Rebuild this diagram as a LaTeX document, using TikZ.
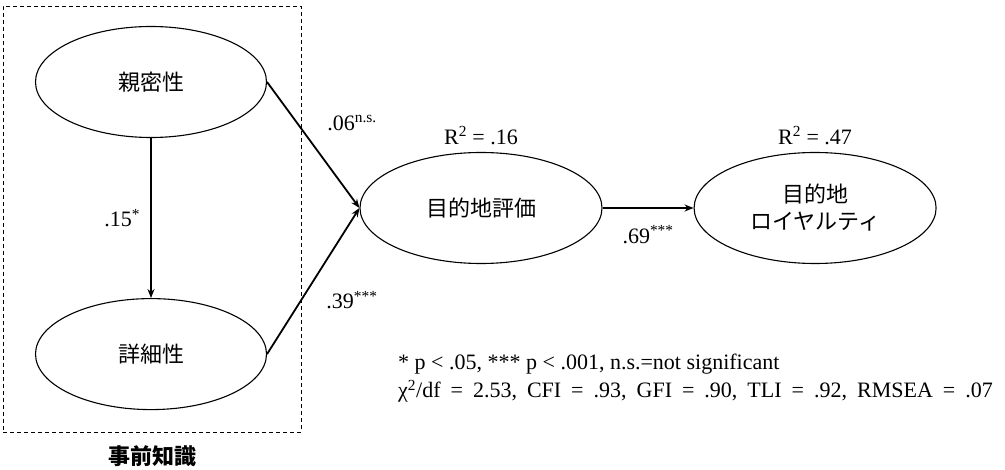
\documentclass[tikz,border=0pt]{standalone}
\usepackage{fontspec}
\setmainfont{Liberation Serif}
\newfontfamily\jpfont{Noto Sans CJK JP}
\usetikzlibrary{positioning,arrows.meta,shapes.geometric}

\begin{document}
\begin{tikzpicture}[x=1pt,y=-1pt,>={Stealth[length=9pt,width=7pt]},
  latent/.style={draw,ellipse,line width=1.1pt,minimum width=231pt,minimum height=111pt,
    inner sep=0pt,align=center,font=\jpfont\fontsize{22}{27}\selectfont},
  pathline/.style={->,line width=1.8pt},
  coef/.style={inner sep=2pt,font=\fontsize{22}{24}\selectfont}]
\useasboundingbox (0,0) rectangle (1005,470);
% prior knowledge block
\node (prior) [draw,line width=0.8pt,dash pattern=on 4pt off 3pt,
  minimum width=298pt,minimum height=426pt] at (152,219) {};
\node (priorlbl) [below=10pt of prior,font=\jpfont\bfseries\fontsize{22}{26}\selectfont] {事前知識};
\node (intim) [latent] at (151,82) {親密性};
\node (detail) [latent,below=160pt of intim] {詳細性};
% outcomes
\node (eval) [latent,minimum width=242pt] at (481,208) {目的地評価};
\node (loyal) [latent,minimum width=242pt,right=91pt of eval] {目的地\\ロイヤルティ};
\node (r1) [coef,above=5pt of eval] {R\textsuperscript{2} = .16};
\node (r2) [coef,above=5pt of loyal] {R\textsuperscript{2} = .47};
% paths
\draw[pathline] (intim.south) -- (detail.north) node (c0) [coef,midway,left=8pt] {.15\textsuperscript{*}};
\draw[pathline] (intim.east) -- (eval.west);
\draw[pathline] (detail.east) -- (eval.west);
\draw[pathline] (eval.east) -- (loyal.west) node (c3) [coef,midway,below=15pt] {.69\textsuperscript{***}};
\node (c1) [coef] at (352,123) {.06\textsuperscript{n.s.}};
\node (c2) [coef] at (352,300) {.39\textsuperscript{***}};
% fit indices
\node (note) [coef,align=left,anchor=north west,font=\fontsize{22}{28}\selectfont] at (396,352)
  {* p < .05, *** p < .001, n.s.=not significant\\
   {\spaceskip=10pt χ\textsuperscript{2}/df = 2.53, CFI = .93, GFI = .90, TLI = .92, RMSEA = .07}};
\end{tikzpicture}
\end{document}
